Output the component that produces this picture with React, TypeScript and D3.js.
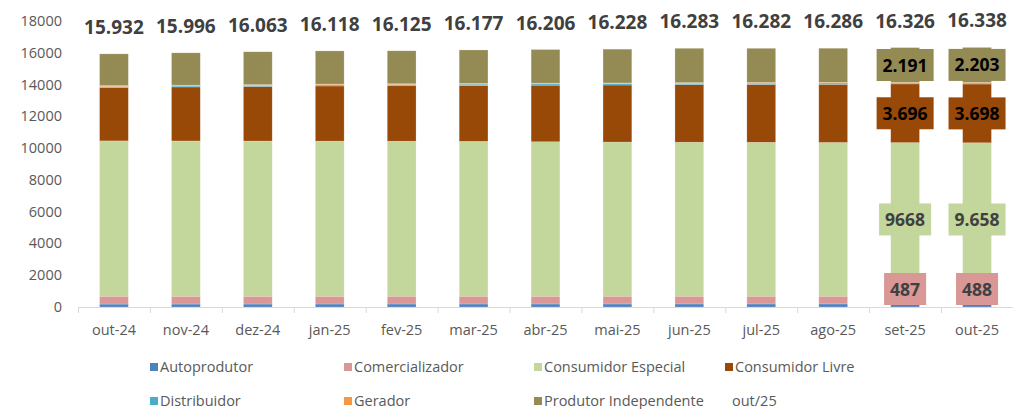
import { useRef, useEffect } from "react";
import * as d3 from "d3";

const months = ["out-24", "nov-24", "dez-24", "jan-25", "fev-25", "mar-25", "abr-25", "mai-25", "jun-25", "jul-25", "ago-25", "set-25", "out-25"];

const seriesNames = ["Autoprodutor", "Comercializador", "Consumidor Especial", "Consumidor Livre", "Distribuidor", "Gerador", "Produtor Independente"];
const seriesColors = ["#4f81bd", "#d99795", "#c3d69b", "#984807", "#4bacc6", "#f79646", "#948a54"];

const autoprodutor = [185, 186, 187, 188, 189, 190, 190, 191, 192, 192, 193, 190, 190];
const comercializador = [495, 494, 493, 492, 492, 491, 490, 490, 489, 489, 488, 487, 488];
const consumidorEspecial = [9775, 9770, 9765, 9760, 9755, 9745, 9720, 9700, 9690, 9685, 9675, 9668, 9658];
const consumidorLivre = [3360, 3400, 3430, 3470, 3490, 3520, 3560, 3590, 3620, 3640, 3660, 3696, 3698];
const distribuidor = [60, 62, 65, 70, 75, 80, 85, 85, 82, 80, 80, 60, 62];
const gerador = [60, 55, 55, 50, 50, 45, 45, 45, 45, 45, 45, 34, 39];
const produtorIndependente = [1997, 2029, 2068, 2088, 2074, 2106, 2116, 2127, 2165, 2151, 2145, 2191, 2203];

const totalLabels = ["15.932", "15.996", "16.063", "16.118", "16.125", "16.177", "16.206", "16.228", "16.283", "16.282", "16.286", "16.326", "16.338"];

// data labels shown only on the last two bars (series index -> text per month)
const labelMonths = ["set-25", "out-25"];
const labelComercializador = ["487", "488"];
const labelEspecial = ["9668", "9.658"];
const labelLivre = ["3.696", "3.698"];
const labelProdutor = ["2.191", "2.203"];

const yTicks = [0, 2000, 4000, 6000, 8000, 10000, 12000, 14000, 16000, 18000];

const extraLegend = "out/25";

const FONT = "'Open Sans', 'DejaVu Sans', sans-serif";

const App = () => {
  const svgRef = useRef<SVGSVGElement>(null);

  useEffect(() => {
    const svg = d3.select(svgRef.current);
    svg.selectAll("*").remove();

    const width = 1013;
    const height = 409;
    const left = 78;
    const axisY = 307;

    const values = [autoprodutor, comercializador, consumidorEspecial, consumidorLivre, distribuidor, gerador, produtorIndependente];

    const rows = months.map((m, i) => {
      const row: any = { month: m };
      seriesNames.forEach((s, k) => (row[s] = values[k][i]));
      return row;
    });

    const stacked = d3.stack<any>().keys(seriesNames)(rows);

    const x = d3
      .scaleBand()
      .domain(months)
      .range([left, width])
      .paddingInner(0.6)
      .paddingOuter(0.3);

    const y = d3.scaleLinear().domain([0, 18000]).range([axisY, 21]);

    // y tick labels
    svg
      .append("g")
      .selectAll("text")
      .data(yTicks)
      .join("text")
      .attr("x", 62)
      .attr("y", (d) => y(d) + 5)
      .attr("text-anchor", "end")
      .attr("font-family", FONT)
      .attr("font-size", 14.5)
      .attr("fill", "#595959")
      .text((d) => d);

    // bars
    const chart = svg.append("g");
    stacked.forEach((layer, k) => {
      chart
        .append("g")
        .selectAll("rect")
        .data(layer)
        .join("rect")
        .attr("x", (d: any) => x(d.data.month)!)
        .attr("width", x.bandwidth())
        .attr("y", (d) => y(d[1]))
        .attr("height", (d) => Math.max(0, y(d[0]) - y(d[1])))
        .attr("fill", seriesColors[k])
        .attr("stroke", "#ffffff")
        .attr("stroke-opacity", 0.35)
        .attr("stroke-width", 0.6);
    });

    // x axis
    const step = x.step();
    svg
      .append("line")
      .attr("x1", left)
      .attr("x2", width)
      .attr("y1", axisY + 0.5)
      .attr("y2", axisY + 0.5)
      .attr("stroke", "#d9d9d9");
    svg
      .append("g")
      .selectAll("line")
      .data(d3.range(months.length + 1))
      .join("line")
      .attr("x1", (i) => left + i * step + 0.5)
      .attr("x2", (i) => left + i * step + 0.5)
      .attr("y1", axisY)
      .attr("y2", axisY + 6)
      .attr("stroke", "#d9d9d9");
    svg
      .append("g")
      .selectAll("text")
      .data(months)
      .join("text")
      .attr("x", (m) => x(m)! + x.bandwidth() / 2)
      .attr("y", 335)
      .attr("text-anchor", "middle")
      .attr("font-family", FONT)
      .attr("font-size", 14.5)
      .attr("fill", "#595959")
      .text((m) => m);

    // totals above bars
    const top = stacked[stacked.length - 1];
    svg
      .append("g")
      .selectAll("text")
      .data(top)
      .join("text")
      .attr("x", (d: any) => x(d.data.month)! + x.bandwidth() / 2)
      .attr("y", (d) => y(d[1]) - 20)
      .attr("text-anchor", "middle")
      .attr("font-family", FONT)
      .attr("font-size", 19)
      .attr("font-weight", "bold")
      .attr("fill", "#404040")
      .text((d, i) => totalLabels[i]);

    // boxed data labels on last two bars
    const labelSets = [
      { k: 1, texts: labelComercializador, color: "#404040" },
      { k: 2, texts: labelEspecial, color: "#404040" },
      { k: 3, texts: labelLivre, color: "#000000" },
      { k: 6, texts: labelProdutor, color: "#000000" },
    ];
    const lg = svg.append("g");
    labelSets.forEach(({ k, texts, color }) => {
      labelMonths.forEach((m, j) => {
        const idx = months.indexOf(m);
        const seg = stacked[k][idx];
        const cx = x(m)! + x.bandwidth() / 2;
        let cy = (y(seg[0]) + y(seg[1])) / 2;
        const bh = 32;
        if (cy + bh / 2 > axisY - 2) cy = axisY - 2 - bh / 2;
        const g = lg.append("g");
        const rect = g.append("rect").attr("fill", seriesColors[k]);
        const t = g
          .append("text")
          .attr("x", cx)
          .attr("y", cy + 6.5)
          .attr("text-anchor", "middle")
          .attr("font-family", FONT)
          .attr("font-size", 17.5)
          .attr("font-weight", "bold")
          .attr("fill", color)
          .text(texts[j]);
        const tw = (t.node() as SVGTextElement).getComputedTextLength();
        const bw = tw + 12;
        rect
          .attr("x", cx - bw / 2)
          .attr("y", cy - bh / 2)
          .attr("width", bw)
          .attr("height", bh);
      });
    });

    // legend
    const legendCols = [160, 354, 544, 735];
    const legendRows = [367, 401];
    const legend = svg.append("g");
    seriesNames.forEach((s, i) => {
      const cx = legendCols[i % 4];
      const cy = legendRows[Math.floor(i / 4)];
      legend
        .append("rect")
        .attr("x", cx - 10)
        .attr("y", cy - 4)
        .attr("width", 8)
        .attr("height", 8)
        .attr("fill", seriesColors[i]);
      legend
        .append("text")
        .attr("x", cx)
        .attr("y", cy + 5)
        .attr("font-family", FONT)
        .attr("font-size", 14.5)
        .attr("fill", "#595959")
        .text(s);
    });
    legend
      .append("text")
      .attr("x", legendCols[3] - 3)
      .attr("y", legendRows[1] + 5)
      .attr("font-family", FONT)
      .attr("font-size", 14.5)
      .attr("fill", "#595959")
      .text(extraLegend);
  }, []);

  return (
    <svg
      ref={svgRef}
      width={1013}
      height={409}
      style={{ position: "absolute", left: 0, top: 0, background: "#ffffff" }}
    ></svg>
  );
};

export default App;
